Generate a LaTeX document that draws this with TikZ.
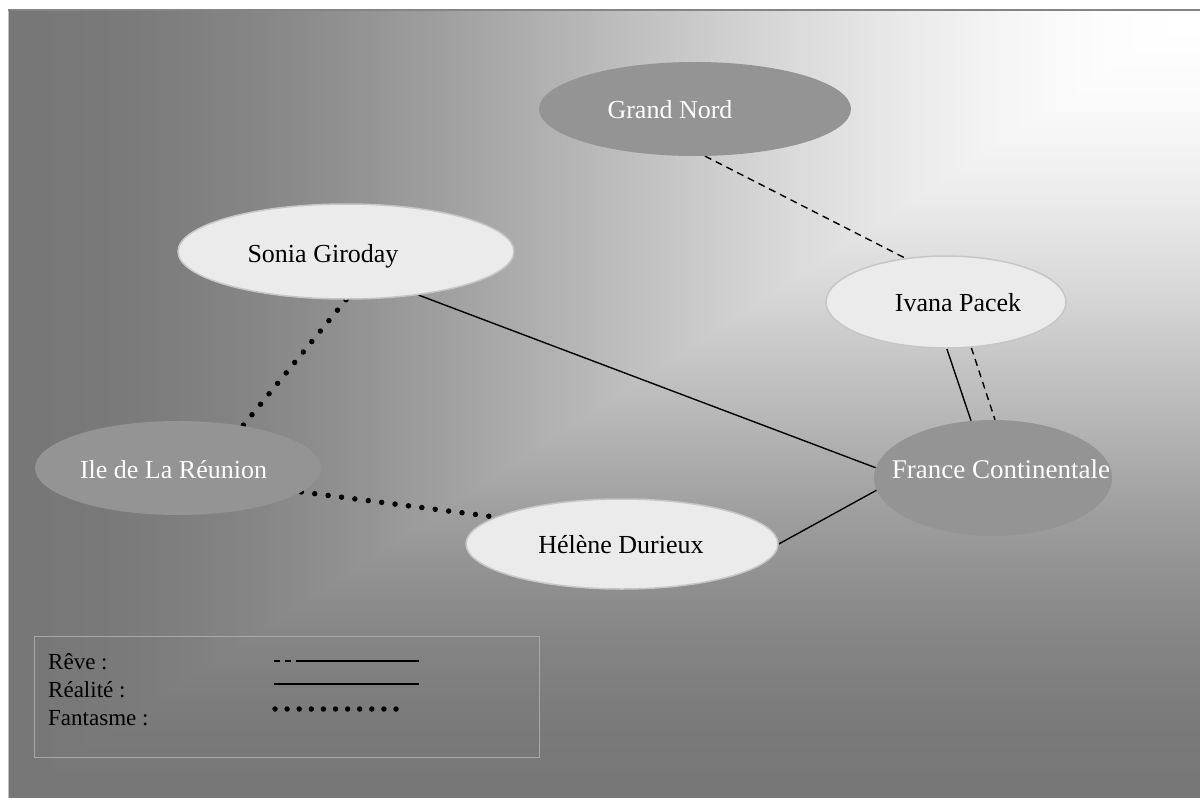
\documentclass[tikz,border=0pt]{standalone}
\usepackage{fontspec}
\setmainfont{Liberation Serif}
\usetikzlibrary{shapes.geometric}
\definecolor{darknode}{HTML}{949494}
\definecolor{lightnode}{HTML}{EBEBEB}
\definecolor{lightrim}{HTML}{C6C6C6}
\definecolor{legendrim}{HTML}{A8A8A8}
\definecolor{topline}{HTML}{858585}
\definecolor{leftline}{HTML}{C0C0C0}
\pgfdeclarelayer{bg}
\pgfdeclarelayer{edges}
\pgfsetlayers{bg,edges,main}
\tikzset{
  darkell/.style={ellipse, fill=darknode, inner sep=0pt},
  lightell/.style={ellipse, fill=lightnode, draw=lightrim, line width=1.5pt, inner sep=0pt},
  nodetext/.style={anchor=base, font=\fontsize{26}{30}\selectfont, inner sep=0pt},
  reve/.style={line width=1.4pt, dash pattern=on 7pt off 5pt},
  realite/.style={line width=1.4pt},
  fantasme/.style={line width=5.5pt, line cap=round, dash pattern=on 0pt off 13.5pt},
  legendtext/.style={anchor=base west, font=\fontsize{23}{27}\selectfont, inner sep=0pt},
}
\begin{document}
\begin{tikzpicture}[x=1pt,y=-1pt]
\useasboundingbox (0,0) rectangle (1200,798);
\begin{pgfonlayer}{bg}
  \foreach \i in {200,...,1}{
    \pgfmathsetmacro\t{\i/200}
    \pgfmathsetmacro\v{(255-136*(3*\t*\t-2*\t*\t*\t))/255}
    \definecolor{bgc}{gray}{\v}
    \fill[bgc] ({1200-1192*\t},10) rectangle (1200,{10+788*\t});
  }
  \draw[leftline, line width=1pt] (8.5,10) -- (8.5,798);
  \draw[topline, line width=2pt] (8,10) -- (1200,10);
\end{pgfonlayer}

% nodes
\node[darkell, minimum width=312pt, minimum height=94pt] (gn) at (695,109) {};
\node[lightell, minimum width=336pt, minimum height=95pt] (sonia) at (346,251.5) {};
\node[lightell, minimum width=240pt, minimum height=92pt] (ivana) at (946,302) {};
\node[darkell, minimum width=238pt, minimum height=116pt] (france) at (993,478) {};
\node[darkell, minimum width=286pt, minimum height=94pt] (reunion) at (178,468) {};
\node[lightell, minimum width=312pt, minimum height=90pt] (helene) at (622,544) {};

\node[nodetext, text=white] (gnt) at (670,118) {Grand Nord};
\node[nodetext] (soniat) at (323,262) {Sonia Giroday};
\node[nodetext] (ivanat) at (958,311) {Ivana Pacek};
\node[nodetext, text=white, font=\fontsize{27}{31}\selectfont] (francet) at (1001,478) {France Continentale};
\node[nodetext, text=white] (reuniont) at (173.5,478) {Ile de La Réunion};
\node[nodetext] (helenet) at (621,553) {Hélène Durieux};

% connectors
\begin{pgfonlayer}{edges}
  \draw[reve] (gn.-78) -- (ivana.133);
  \draw[realite] (sonia.-31) -- (france.175);
  \draw[realite] (ivana.-89) -- (france.111);
  \draw[reve] (ivana.-61) -- (france.88);
  \draw[fantasme] (sonia.-90) -- (reunion.33);
  \draw[fantasme] (reunion.-11) -- (helene.168);
  \draw[realite] (helene.0) -- (france.186);
\end{pgfonlayer}

% legend
\node[draw=legendrim, line width=1.2pt, minimum width=505pt, minimum height=121pt,
      inner sep=0pt, anchor=north west] (legend) at (34,636) {};
\node[legendtext] (lreve) at (48,669) {Rêve :};
\node[legendtext] (lreal) at (48,697) {Réalité :};
\node[legendtext] (lfant) at (48,725) {Fantasme :};

\coordinate (ra) at (274,661);
\coordinate (rb) at (297,661);
\coordinate (rc) at (320,661);
\coordinate (rd) at (419,661);
\draw[line width=1.3pt, dash pattern=on 6pt off 5pt] (ra) -- (rb);
\draw[line width=1.3pt] (rb) -- (rc);
\draw[line width=2.6pt] (rc) -- (rd);

\coordinate (sa) at (274,684);
\coordinate (sb) at (322,684);
\coordinate (sc) at (419,684);
\draw[line width=1.6pt] (sa) -- (sb);
\draw[line width=2.2pt] (sb) -- (sc);

\coordinate (fa) at (275,709);
\coordinate (fb) at (408.1,709);
\draw[line width=5.5pt, line cap=round, dash pattern=on 0pt off 12.1pt] (fa) -- (fb);
\end{tikzpicture}
\end{document}
